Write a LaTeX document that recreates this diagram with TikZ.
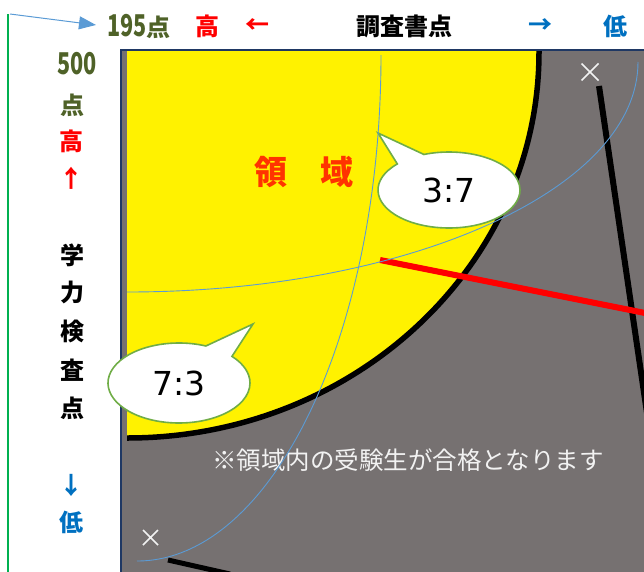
\documentclass[tikz,border=0pt]{standalone}
\usepackage{fontspec}
\setmainfont{DejaVu Sans}
\newfontfamily\jp{Noto Sans CJK JP}
\usetikzlibrary{arrows.meta,shapes.callouts}
\definecolor{frgray}{RGB}{118,113,113}
\definecolor{navy}{RGB}{31,56,100}
\definecolor{olivetxt}{RGB}{79,98,40}
\definecolor{bluetxt}{RGB}{0,112,192}
\definecolor{thinblue}{RGB}{91,155,213}
\definecolor{greenline}{RGB}{0,176,80}
\definecolor{callgreen}{RGB}{112,173,71}
\definecolor{areared}{RGB}{255,51,0}
\definecolor{notewhite}{RGB}{242,242,242}
\tikzset{
  lbl/.style={inner sep=0pt, font=\jp\bfseries\fontsize{24}{24}\selectfont},
  bubble/.style={ellipse callout, draw=callgreen, line width=1.6pt, fill=white,
    minimum width=142pt, minimum height=76pt, inner sep=0pt, callout pointer arc=26,
    font=\fontsize{33}{33}\selectfont},
  bluecurve/.style={draw=thinblue, line width=0.9pt},
  blackbar/.style={draw=black, line width=6pt},
  crossmark/.style={draw=notewhite, line width=1.5pt}
}
\begin{document}
\begin{tikzpicture}[x=1pt,y=-1pt]
\useasboundingbox (0,0) rectangle (644,571);
\begin{scope}
\clip (0,0) rectangle (644,571);
% frame
\draw[navy, line width=2pt, fill=frgray] (121,50) rectangle (680,600);
% yellow region
\begin{scope}
\clip (127,51.5) rectangle (680,600);
\fill[yellow] (127,52) ellipse [x radius=412pt, y radius=386pt];
\draw[black, line width=5.5pt] (127,52) ellipse [x radius=412pt, y radius=386pt];
\end{scope}
% black bars
\coordinate (b1s) at (599,86);
\coordinate (b1e) at (648,420);
\draw[blackbar] (b1s) -- (b1e);
\coordinate (b2s) at (168,560);
\coordinate (b2e) at (230,574);
\draw[blackbar, line width=5pt] (b2s) -- (b2e);
% red bar
\coordinate (r1s) at (380,260);
\coordinate (r1e) at (660,316);
\draw[red, line width=6pt] (r1s) -- (r1e);
% crosses
\draw[crossmark] (581.5,63.5) -- (598.5,80.5) (581.5,80.5) -- (598.5,63.5);
\draw[crossmark] (143,530) -- (158,545) (143,545) -- (158,530);
% callouts
\node[bubble, callout absolute pointer={(378,133)}] (c37) at (449,190) {3:7};
\node[bubble, callout absolute pointer={(253,324)}, minimum height=80pt] (c73) at (179,383) {7:3};
% region label and note
\node[inner sep=0pt, font=\jp\bfseries\fontsize{33}{33}\selectfont, text=areared] (area) at (304,172) {領\hspace{1em}域};
\node[inner sep=0pt, font=\jp\fontsize{24.5}{24.5}\selectfont, text=notewhite] (note) at (408,460) {※領域内の受験生が合格となります};
% thin blue curves
\draw[bluecurve] (381,55) arc[start angle=0, end angle=-90, x radius=244pt, y radius=506pt];
\draw[bluecurve] (127,292) arc[start angle=-90, end angle=0, x radius=511pt, y radius=230pt];
% left green line and arrow
\coordinate (g1) at (8,14);
\coordinate (g2) at (8,580);
\draw[greenline, line width=2pt] (g1) -- (g2);
\coordinate (a1) at (10,14);
\coordinate (a2) at (96,25);
\draw[thinblue, line width=1pt, -{Triangle[length=17pt,width=13pt]}] (a1) -- (a2);
% top labels
\node[lbl, text=olivetxt] (t195) at (139,26) {\scalebox{0.72}[1]{\fontsize{30}{30}\selectfont 195}点};
\node[lbl, text=red] (thigh) at (207,26) {高};
\node[lbl, text=red] (tlarr) at (257,26) {←};
\node[lbl] (tname) at (404,26) {調査書点};
\node[lbl, text=bluetxt] (trarr) at (540,26) {→};
\node[lbl, text=bluetxt] (tlow) at (615,26) {低};
% left labels
\node[lbl, text=olivetxt] (l500) at (77,64) {\scalebox{0.72}[1]{\fontsize{30}{30}\selectfont 500}};
\node[lbl, text=olivetxt] (lten) at (72,105) {点};
\node[lbl, text=red] (lhigh) at (71,141) {高};
\node[lbl, text=red] (luarr) at (71,178) {↑};
\node[lbl] (lk1) at (72,255) {学};
\node[lbl] (lk2) at (72,292) {力};
\node[lbl] (lk3) at (72,331) {検};
\node[lbl] (lk4) at (72,370) {査};
\node[lbl] (lk5) at (72,408) {点};
\node[lbl, text=bluetxt] (ldarr) at (71,485) {↓};
\node[lbl, text=bluetxt] (llow) at (71,522) {低};
\end{scope}
\end{tikzpicture}
\end{document}
